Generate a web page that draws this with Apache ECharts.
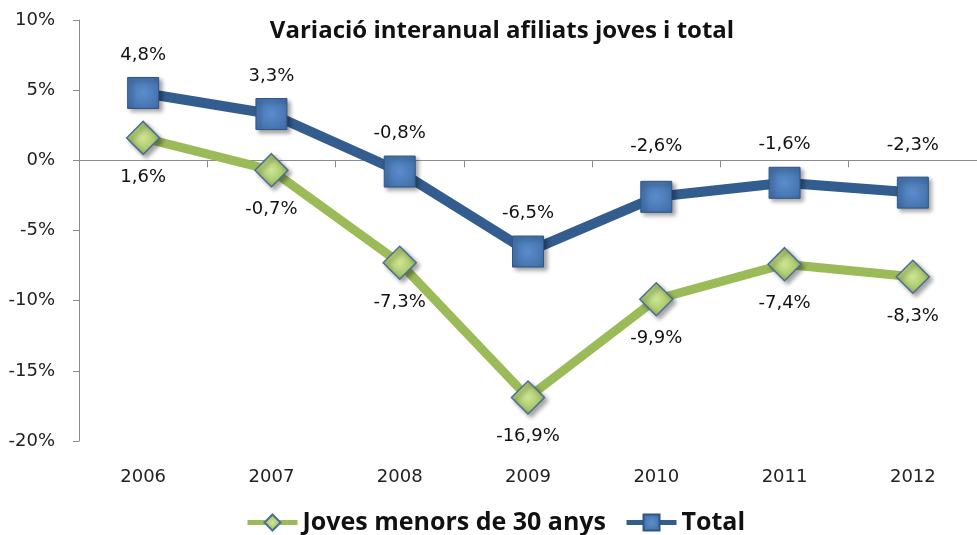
<!DOCTYPE html>
<html>
<head>
<meta charset="utf-8">
<script src="https://cdn.jsdelivr.net/npm/echarts@6/dist/echarts.min.js"></script>
<style>
  html, body { margin: 0; padding: 0; background: #fff; }
  #main { width: 977px; height: 535px; }
</style>
</head>
<body>
<div id="main"></div>
<script>
  // dades
  const years = ['2006', '2007', '2008', '2009', '2010', '2011', '2012']
  const joves = [1.6, -0.7, -7.3, -16.9, -9.9, -7.4, -8.3]
  const total = [4.8, 3.3, -0.8, -6.5, -2.6, -1.6, -2.3]
  const yTicks = [-20, -15, -10, -5, 0, 5, 10]

  const pct = v => String(v).replace('.', ',') + '%'

  const chart = echarts.init(document.getElementById('main'))

  const shadow = {
    shadowBlur: 4,
    shadowOffsetX: 3,
    shadowOffsetY: 3,
    shadowColor: 'rgba(0,0,0,0.35)'
  }

  // les etiquetes de 2010 i 2012 (Total) estan pujades per sobre de l'eix
  const totalLabelDist = [13, 13, 13, 13, 25, 13, 22]
  const totalData = total.map((v, i) => ({
    value: v,
    label: { distance: totalLabelDist[i] }
  }))

  const labelFont = {
    fontFamily: 'DejaVu Sans',
    fontSize: 18,
    color: '#111'
  }

  const option = {
    backgroundColor: '#fff',
    animation: false,
    title: {
      text: 'Variació interanual afiliats joves i total',
      left: 497,
      top: 14,
      textAlign: 'center',
      textStyle: {
        fontFamily: 'Open Sans',
        fontWeight: 'bold',
        fontSize: 24,
        color: '#111'
      }
    },
    legend: {
      data: ['Joves menors de 30 anys', 'Total'],
      left: 240,
      top: 505,
      itemWidth: 50,
      itemHeight: 20,
      itemGap: 18,
      lineStyle: { width: 5 },
      textStyle: {
        fontFamily: 'Open Sans',
        fontWeight: 'bold',
        fontSize: 25,
        color: '#111'
      }
    },
    grid: {
      left: 79,
      right: -8,
      top: 20,
      bottom: 94
    },
    xAxis: [
      {
        type: 'category',
        data: years,
        position: 'bottom',
        axisLine: { show: false, onZero: false },
        axisTick: { show: false },
        axisLabel: {
          margin: 27,
          fontFamily: 'DejaVu Sans',
          fontSize: 18,
          color: '#222'
        }
      },
      {
        // eix horitzontal a 0 amb marques de divisió
        type: 'category',
        data: years,
        position: 'bottom',
        axisLine: { show: true, onZero: true, lineStyle: { color: '#8c8c8c', width: 1 } },
        axisTick: { show: true, interval: 0, length: 7, lineStyle: { color: '#8c8c8c', width: 1 } },
        axisLabel: { show: true, interval: 0, color: 'rgba(0,0,0,0)', fontSize: 1 },
        splitLine: { show: false }
      }
    ],
    yAxis: {
      type: 'value',
      min: yTicks[0],
      max: yTicks[yTicks.length - 1],
      interval: 5,
      axisLine: { show: true, lineStyle: { color: '#8c8c8c', width: 1 } },
      axisTick: { show: true, length: 6, lineStyle: { color: '#8c8c8c' } },
      splitLine: { show: false },
      axisLabel: {
        margin: 24,
        fontFamily: 'DejaVu Sans',
        fontSize: 18,
        color: '#222',
        formatter: v => v + '%'
      }
    },
    series: [
      {
        name: 'Joves menors de 30 anys',
        type: 'line',
        xAxisIndex: 0,
        data: joves,
        symbol: 'diamond',
        symbolSize: 33,
        lineStyle: { color: '#9BBB59', width: 9 },
        itemStyle: Object.assign({
          color: {
            type: 'radial', x: 0.5, y: 0.5, r: 0.6,
            colorStops: [
              { offset: 0, color: '#cfe596' },
              { offset: 1, color: '#8fb34a' }
            ]
          },
          borderColor: '#4a6f97',
          borderWidth: 1.5
        }, shadow),
        label: Object.assign({
          show: true,
          position: 'bottom',
          distance: 13,
          formatter: p => pct(p.value)
        }, labelFont),
        z: 2
      },
      {
        name: 'Total',
        type: 'line',
        xAxisIndex: 0,
        data: totalData,
        symbol: 'rect',
        symbolSize: 31,
        lineStyle: { color: '#335c8f', width: 10 },
        itemStyle: Object.assign({
          color: {
            type: 'radial', x: 0.5, y: 0.5, r: 0.7,
            colorStops: [
              { offset: 0, color: '#5b8ccc' },
              { offset: 1, color: '#3d6aa3' }
            ]
          },
          borderColor: '#2f5584',
          borderWidth: 1
        }, shadow),
        label: Object.assign({
          show: true,
          position: 'top',
          distance: 13,
          formatter: p => pct(p.value)
        }, labelFont),
        z: 3
      }
    ]
  }

  chart.setOption(option)
</script>
</body>
</html>
